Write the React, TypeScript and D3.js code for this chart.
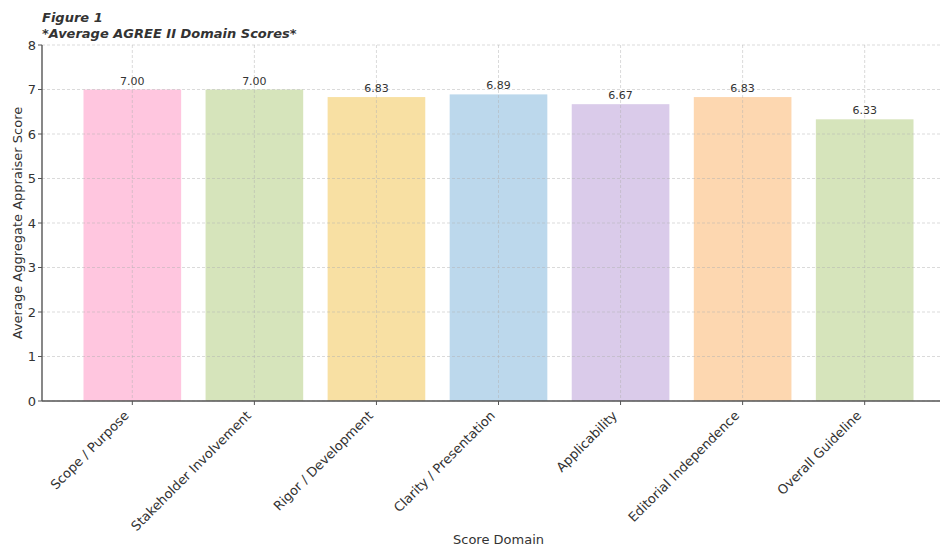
import * as d3 from "d3";
import { useEffect, useRef } from "react";

const domains = [
  "Scope / Purpose",
  "Stakeholder Involvement",
  "Rigor / Development",
  "Clarity / Presentation",
  "Applicability",
  "Editorial Independence",
  "Overall Guideline"
];
const scores = [7.0, 7.0, 6.83, 6.89, 6.67, 6.83, 6.33];
const barColors = ["#ffc6df", "#d6e4bb", "#f8e0a3", "#bcd8ec", "#dacbea", "#fdd7b0", "#d6e4bb"];
const yTicks = [0, 1, 2, 3, 4, 5, 6, 7, 8];

export default function App() {
  const ref = useRef<SVGSVGElement | null>(null);

  useEffect(() => {
    if (!ref.current) return;
    const width = 940;
    const height = 548;
    const left = 42;
    const top = 45;
    const bottom = 401;
    const right = 955; // axes run past the picture edge, as in the reference
    const font = "DejaVu Sans, sans-serif";
    const ink = "#333";

    const svg = d3.select(ref.current);
    svg.selectAll("*").remove();
    svg.attr("width", width).attr("height", height).attr("viewBox", `0 0 ${width} ${height}`);
    svg.append("rect").attr("width", width).attr("height", height).attr("fill", "#fff");

    const x = d3.scaleLinear().domain([-0.74, domains.length - 1 + 0.74]).range([left, right]);
    const y = d3.scaleLinear().domain([0, 8]).range([bottom, top]);
    const bw = x(0.4) - x(-0.4);

    const defs = svg.append("defs");
    defs.append("clipPath").attr("id", "plot").append("rect")
      .attr("x", left).attr("y", top - 1).attr("width", right - left).attr("height", bottom - top + 2);

    const plot = svg.append("g").attr("clip-path", "url(#plot)");

    plot.selectAll("rect.bar").data(scores).join("rect")
      .attr("class", "bar")
      .attr("x", (_, i) => x(i) - bw / 2)
      .attr("y", (d) => y(d))
      .attr("width", bw)
      .attr("height", (d) => y(0) - y(d))
      .attr("fill", (_, i) => barColors[i]);

    // grid drawn over the bars
    plot.selectAll("line.hg").data(yTicks).join("line")
      .attr("x1", left).attr("x2", right)
      .attr("y1", (d) => y(d)).attr("y2", (d) => y(d))
      .attr("stroke", "#b0b0b0").attr("stroke-opacity", 0.6)
      .attr("stroke-dasharray", "3,2").attr("stroke-width", 0.8);
    plot.selectAll("line.vg").data(domains).join("line")
      .attr("x1", (_, i) => x(i)).attr("x2", (_, i) => x(i))
      .attr("y1", top).attr("y2", bottom)
      .attr("stroke", "#b0b0b0").attr("stroke-opacity", 0.6)
      .attr("stroke-dasharray", "3,2").attr("stroke-width", 0.8);

    svg.selectAll("text.val").data(scores).join("text")
      .attr("x", (_, i) => x(i))
      .attr("y", (d) => y(d) - 5)
      .attr("text-anchor", "middle")
      .attr("font-family", font).attr("font-size", 11).attr("fill", ink)
      .text((d) => d.toFixed(2));

    // spines
    svg.append("line").attr("x1", left).attr("x2", left).attr("y1", top).attr("y2", bottom)
      .attr("stroke", "#555").attr("stroke-width", 1.4);
    svg.append("line").attr("x1", left).attr("x2", right).attr("y1", bottom).attr("y2", bottom)
      .attr("stroke", "#555").attr("stroke-width", 1.4);

    // y ticks
    yTicks.forEach((t) => {
      svg.append("line").attr("x1", left - 4).attr("x2", left).attr("y1", y(t)).attr("y2", y(t))
        .attr("stroke", "#555");
      svg.append("text").attr("x", left - 6).attr("y", y(t)).attr("dy", "0.35em")
        .attr("text-anchor", "end").attr("font-family", font).attr("font-size", 13).attr("fill", ink)
        .text(t);
    });

    // x ticks + rotated labels
    domains.forEach((d, i) => {
      svg.append("line").attr("x1", x(i)).attr("x2", x(i)).attr("y1", bottom).attr("y2", bottom + 4)
        .attr("stroke", "#555");
      svg.append("text")
        .attr("transform", `translate(${x(i) - 9},${bottom + 9}) rotate(-45)`)
        .attr("text-anchor", "end").attr("dy", "0.7em")
        .attr("font-family", font).attr("font-size", 13).attr("fill", ink)
        .text(d);
    });

    svg.append("text")
      .attr("transform", `translate(22,${(top + bottom) / 2}) rotate(-90)`)
      .attr("text-anchor", "middle").attr("font-family", font).attr("font-size", 13).attr("fill", ink)
      .text("Average Aggregate Appraiser Score");
    svg.append("text").attr("x", (left + right) / 2).attr("y", 544)
      .attr("text-anchor", "middle").attr("font-family", font).attr("font-size", 13).attr("fill", ink)
      .text("Score Domain");

    const title = svg.append("text").attr("font-family", font).attr("font-size", 13)
      .attr("font-weight", "bold").attr("font-style", "italic").attr("fill", ink);
    title.append("tspan").attr("x", left).attr("y", 22).text("Figure 1");
    title.append("tspan").attr("x", left).attr("y", 38).text("*Average AGREE II Domain Scores*");
  }, []);

  return (
    <div style={{ position: "absolute", left: 0, top: 0 }}>
      <svg ref={ref} style={{ display: "block" }} aria-label="Average AGREE II domain scores bar chart" />
    </div>
  );
}
